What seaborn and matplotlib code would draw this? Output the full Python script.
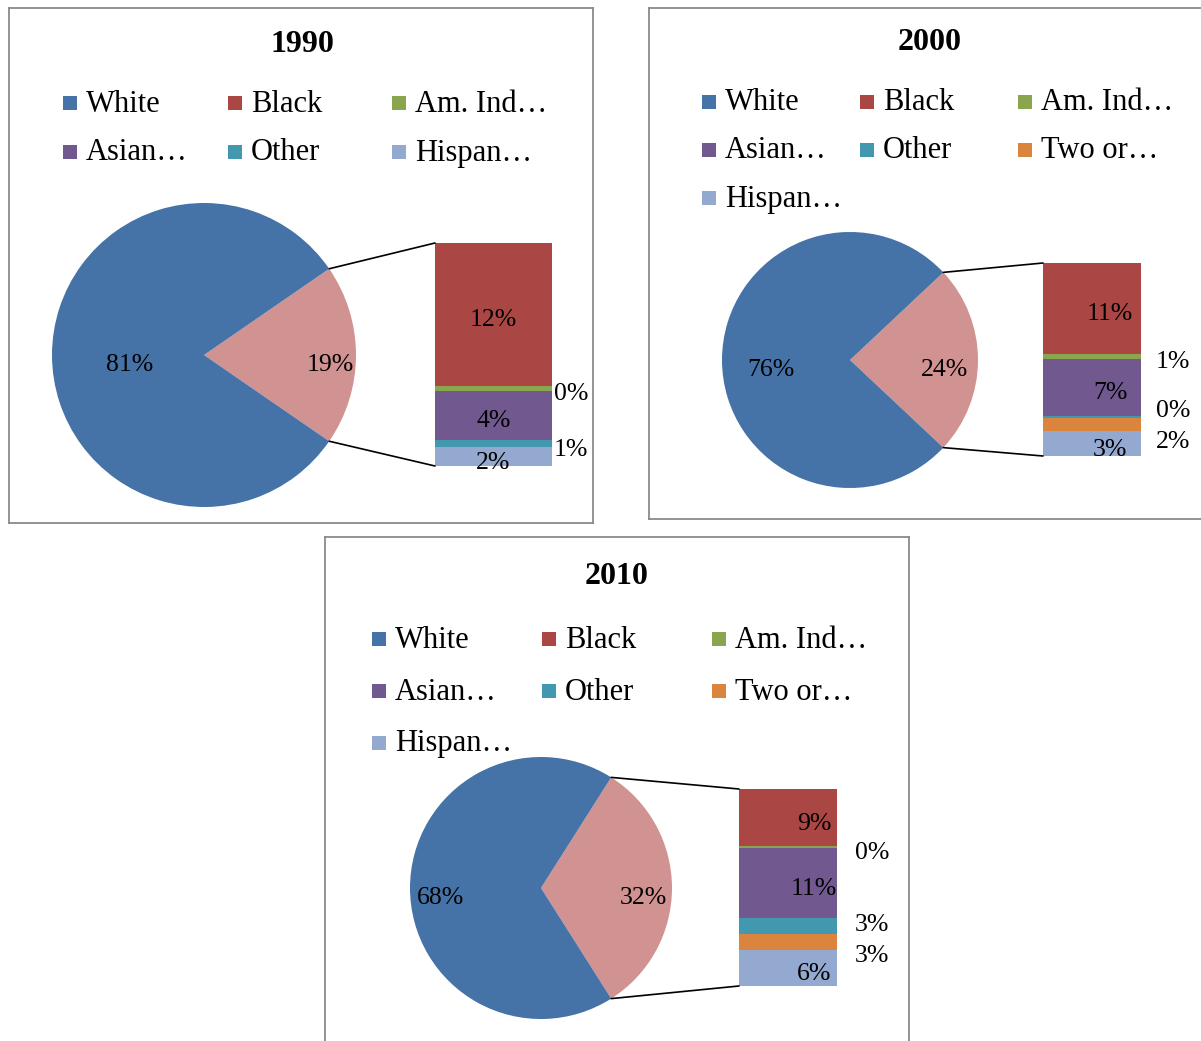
import numpy as np
import matplotlib.pyplot as plt
import seaborn as sns
from matplotlib.patches import Rectangle

sns.set_theme(style="white")
plt.rcParams['font.family'] = ['Liberation Serif', 'DejaVu Serif']
plt.rcParams['text.color'] = 'black'

# ---- data (percent of population) ----
years = ["1990", "2000", "2010"]
legend_1990 = ["White", "Black", "Am. Ind…", "Asian…", "Other", "Hispan…"]
legend_later = ["White", "Black", "Am. Ind…", "Asian…", "Other", "Two or…", "Hispan…"]

white_share = [80.8, 76.0, 68.0]
# breakdown of the non-white slice, top to bottom of the bar
bar_1990 = [12.3, 0.4, 4.3, 0.6, 1.6]          # Black, Am. Ind, Asian, Other, Hispanic
bar_2000 = [11.3, 0.6, 7.1, 0.3, 1.6, 3.1]     # Black, Am. Ind, Asian, Other, Two or more, Hispanic
bar_2010 = [9.3, 0.3, 11.4, 2.6, 2.6, 5.8]

colors = {
    "White": "#4572A7", "Black": "#AA4643", "Am. Ind…": "#89A54E",
    "Asian…": "#71588F", "Other": "#4198AF", "Two or…": "#DB843D",
    "Hispan…": "#93A9CF",
}
rest_color = "#D19391"

W, H = 1201, 1041

# ---- layout in pixels (box left, top, width, height) ----
panels = [
    dict(box=(9, 8, 584, 515), title=(293, 36), pie=(195, 347), r=152,
         bar=(426, 235, 117, 223), leg_x=(54, 219, 383), leg_y=(95, 144),
         d_white=0.49, d_rest=0.83, in_dx=0, out_dx=2),
    dict(box=(649, 8, 570, 511), title=(281, 35), pie=(201, 352), r=128,
         bar=(394, 255, 98, 193), leg_x=(53, 211, 369), leg_y=(94, 142, 190),
         d_white=0.62, d_rest=0.74, in_dx=18, out_dx=15),
    dict(box=(325, 537, 584, 515), title=(292, 39), pie=(216, 351), r=131,
         bar=(414, 252, 98, 197), leg_x=(47, 217, 387), leg_y=(102, 154, 206),
         d_white=0.77, d_rest=0.78, in_dx=26, out_dx=18),
]


def spread(ys, gap):
    ys = list(ys)
    for _ in range(50):
        moved = False
        for i in range(len(ys) - 1):
            if ys[i + 1] - ys[i] < gap - 0.01:
                mid = (ys[i] + ys[i + 1]) / 2
                ys[i], ys[i + 1] = mid - gap / 2, mid + gap / 2
                moved = True
        if not moved:
            break
    return ys


def draw_panel(fig, lay, year, white, parts, names):
    left, top, w, h = lay["box"]
    ax = fig.add_axes([left / W, 1 - (top + h) / H, w / W, h / H])

    rest = sum(parts)
    half = rest / (white + rest) * 360 / 2
    cx, cy = lay["pie"]
    r = lay["r"]
    ax.pie([rest, white], colors=[rest_color, colors["White"]],
           startangle=-half, center=(cx, cy), radius=r, frame=True,
           wedgeprops=dict(linewidth=0))
    ax.set_xlim(0, w)
    ax.set_ylim(h, 0)
    ax.set_xticks([])
    ax.set_yticks([])
    for s in ax.spines.values():
        s.set_color("#8a8a8a")
        s.set_linewidth(1.3)

    lab_kw = dict(fontsize=18.5, color="black", va="center", ha="center")
    ax.text(cx - lay["d_white"] * r, cy + 10, f"{white:.0f}%", **lab_kw)
    ax.text(cx + lay["d_rest"] * r, cy + 10, f"{rest:.0f}%", **lab_kw)

    # stacked bar of the non-white slice
    bl, bt, bw, bh = lay["bar"]
    scale = bh / rest
    cum = 0
    outside = []
    for name, v in zip(names[1:], parts):
        ax.bar(bl + bw / 2, v * scale, bottom=bt + cum, width=bw,
               color=colors[name], linewidth=0)
        mid = bt + cum + v * scale / 2
        if v * scale < 18:
            outside.append((mid + 6, f"{v:.0f}%"))
        else:
            ax.text(bl + bw / 2 + lay["in_dx"], mid + 6, f"{v:.0f}%", **lab_kw)
        cum += v * scale

    ys = spread([o[0] for o in outside], 31)
    for y, (_, txt) in zip(ys, outside):
        ax.text(bl + bw + lay["out_dx"], y, txt, fontsize=18.5, va="center", ha="left")

    # connector lines
    a = np.deg2rad(half)
    ax.plot([cx + r * np.cos(a), bl], [cy - r * np.sin(a), bt], color="black", lw=1.2)
    ax.plot([cx + r * np.cos(a), bl], [cy + r * np.sin(a), bt + bh], color="black", lw=1.2)

    # title
    ax.text(*lay["title"], year, fontsize=23, fontweight="bold", ha="center", va="center")

    # legend
    for i, name in enumerate(names):
        x = lay["leg_x"][i % 3]
        y = lay["leg_y"][i // 3]
        ax.add_patch(Rectangle((x, y - 7), 14, 14, color=colors[name], lw=0))
        ax.text(x + 23, y + 1, name, fontsize=22, va="center", ha="left")


fig = plt.figure(figsize=(W / 100, H / 100), dpi=100)
draw_panel(fig, panels[0], years[0], white_share[0], bar_1990, legend_1990)
draw_panel(fig, panels[1], years[1], white_share[1], bar_2000, legend_later)
draw_panel(fig, panels[2], years[2], white_share[2], bar_2010, legend_later)

fig.savefig("out.png", dpi=100)
